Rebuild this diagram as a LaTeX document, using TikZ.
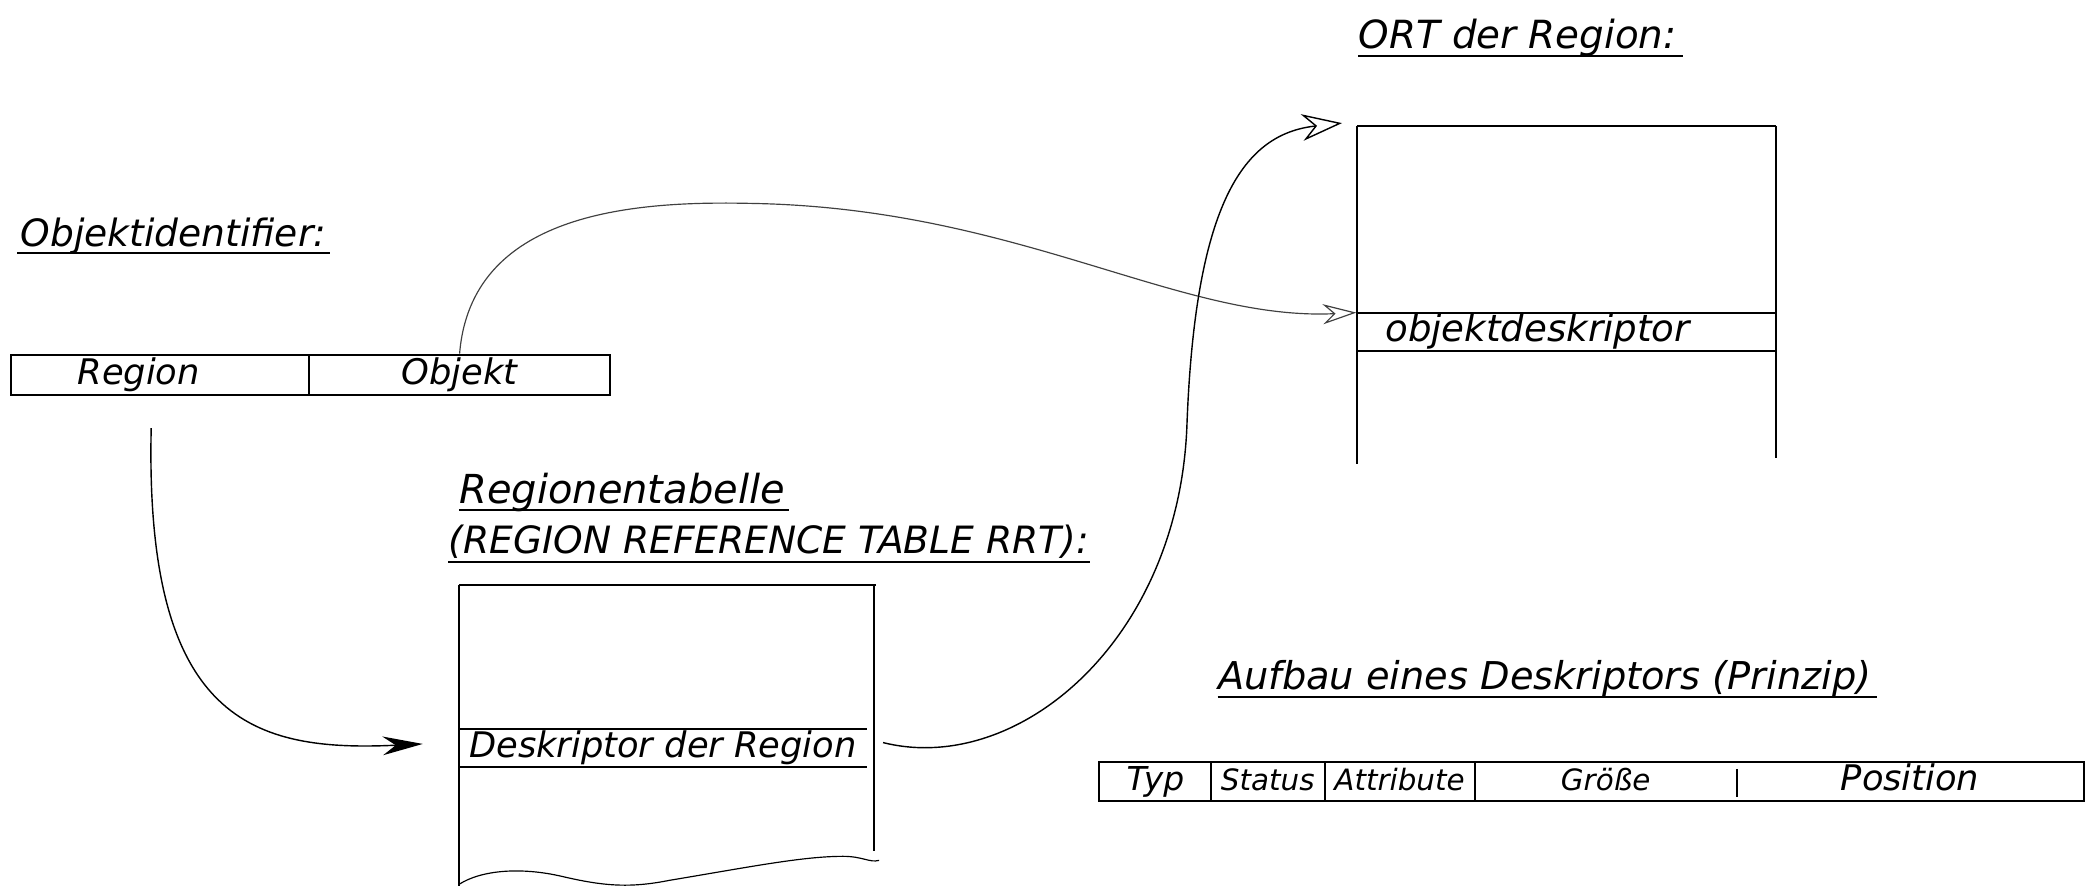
\documentclass[tikz,border=0pt]{standalone}
\usepackage{fontspec}
\newfontfamily\hw{DejaVu Sans}
\usetikzlibrary{arrows.meta}
\begin{document}
\begin{tikzpicture}[x=0.02cm,y=-0.02cm,
  hand/.style={font=\hw\itshape\fontsize{15}{17}\selectfont},
  small/.style={font=\hw\itshape\fontsize{12.5}{14}\selectfont},
  titletext/.style={font=\hw\itshape\fontsize{16}{18}\selectfont, inner sep=0pt, anchor=base west},
  cell/.style={hand, inner sep=0pt, minimum height=0.56cm, text height=11pt, text depth=3pt},
  boxline/.style={line width=0.8pt},
  ulin/.style={line width=0.7pt},
  conn/.style={line width=0.6pt}]
\useasboundingbox (0,0) rectangle (1568,665);

% ---------- titles ----------
\node[titletext] (t1) at (15,184) {Objektidentifier:};
\draw[ulin] (13,189) -- (247,189);
\node[titletext, font=\hw\itshape\fontsize{17}{19}\selectfont] (t2) at (343,376) {Regionentabelle};
\draw[ulin] (343,381) -- (590,381);
\node[titletext] (t3) at (335,414) {(REGION REFERENCE TABLE RRT):};
\draw[ulin] (335,420) -- (815,420);
\node[titletext, font=\hw\itshape\fontsize{16.5}{18}\selectfont] (t4) at (1015,36) {ORT der Region:};
\draw[ulin] (1015,42) -- (1258,42);
\node[titletext, font=\hw\itshape\fontsize{16.3}{18}\selectfont] (t5) at (910,515) {Aufbau eines Deskriptors (Prinzip)};
\draw[ulin] (910,521) -- (1403,521);

% ---------- object identifier ----------
\node[cell, draw, boxline, minimum width=4.46cm, minimum height=0.6cm] (reg) at (119.5,280) {\hspace*{-1.2em}Region};
\node[cell, draw, boxline, minimum width=4.5cm, minimum height=0.6cm] (obj) at (343.5,280) {Objekt};

% ---------- region reference table ----------
\node[cell, minimum width=6.1cm] (rdesc) at (495.5,559) {Deskriptor der Region};
\draw[boxline] (343,437) -- (655,437);
\draw[boxline] (343,437) -- (343,662);
\draw[boxline] (653,437) -- (653,636);
\draw[boxline] (rdesc.north west) -- (rdesc.north east);
\draw[boxline] (rdesc.south west) -- (rdesc.south east);
\draw[line width=0.5pt] (343,661) .. controls (360,650) and (390,648) .. (420,655)
  .. controls (450,662) and (470,664) .. (500,658)
  .. controls (560,648) and (600,640) .. (630,640)
  .. controls (645,640) and (650,645) .. (657,643);

% ---------- ORT of the region ----------
\node[cell, minimum width=6.24cm, font=\hw\itshape\fontsize{15.8}{17}\selectfont] (odesc) at (1170,248) {objektdeskriptor\hspace*{1.5em}};
\draw[boxline] (1014,94) -- (1327,94);
\draw[boxline] (1014,94) -- (1014,347);
\draw[boxline] (1327,94) -- (1327,342);
\draw[boxline] (odesc.north west) -- (odesc.north east);
\draw[boxline] (odesc.south west) -- (odesc.south east);

% ---------- descriptor structure ----------
\node[cell, minimum width=1.66cm, font=\hw\itshape\fontsize{14}{16}\selectfont] (typ) at (863.5,584) {Typ};
\node[cell, small, minimum width=1.7cm] (stat) at (947.5,584) {Status};
\node[cell, small, minimum width=2.24cm] (attr) at (1046,584) {Attribute};
\node[cell, small, minimum width=3.92cm] (gr) at (1200,584) {Größe};
\node[cell, minimum width=5.18cm] (pos) at (1427.5,584) {Position};
\draw[boxline] (typ.north west) rectangle (pos.south east);
\draw[boxline] (typ.north east) -- (typ.south east);
\draw[boxline] (stat.north east) -- (stat.south east);
\draw[boxline] (attr.north east) -- (attr.south east);
\draw[boxline] ([yshift=-0.1cm]gr.north east) -- ([yshift=0.05cm]gr.south east);

% ---------- connectors ----------
\coordinate (a0) at (113,320);
\coordinate (a1) at (316,556);
\draw[conn, -{Stealth[length=6mm,width=2.8mm]}] (a0) .. controls (108,540) and (190,562) .. (a1);

\draw[conn, line width=0.5pt, black!75, -{Stealth[open,length=5mm,width=3mm]}]
  (obj.north) .. controls (352,160) and (470,150) .. (560,152)
  .. controls (760,155) and (880,240) .. (odesc.north west);

\coordinate (c0) at (660,555);
\coordinate (c1) at (1003,92);
\draw[conn, -{Stealth[open,length=6mm,width=4mm]}]
  (c0) .. controls (760,580) and (880,480) .. (887,320)
  .. controls (893,150) and (930,100) .. (c1);
\end{tikzpicture}
\end{document}
